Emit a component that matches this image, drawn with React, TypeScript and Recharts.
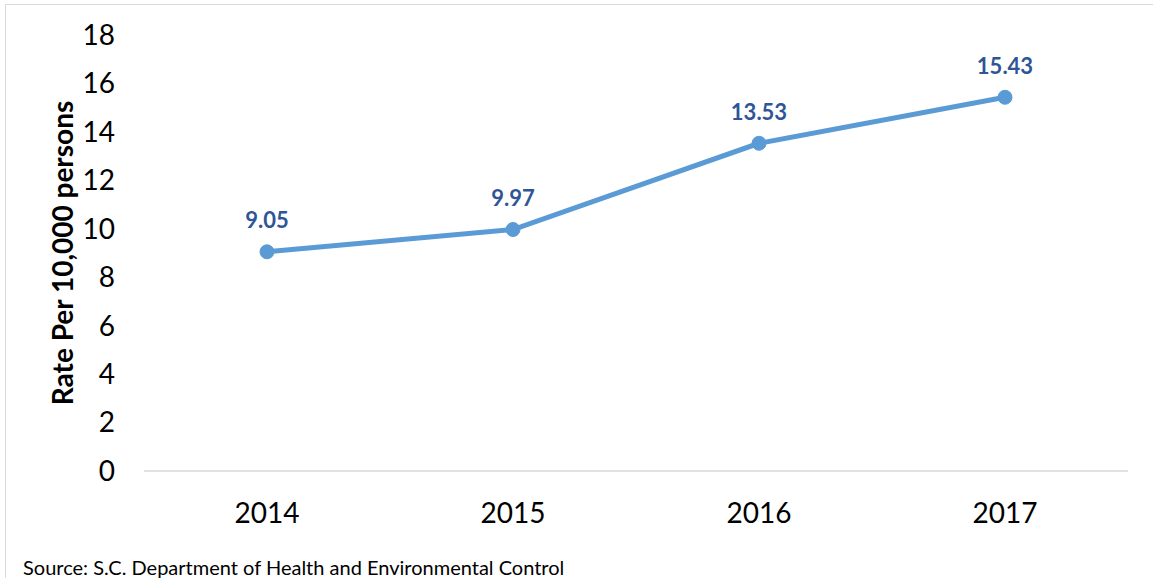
import { CartesianGrid, LabelList, Line, LineChart, XAxis, YAxis } from 'recharts'

const years = ['2014', '2015', '2016', '2017']
const rates = [9.05, 9.97, 13.53, 15.43]
const yTicks = [0, 2, 4, 6, 8, 10, 12, 14, 16, 18]

const data = years.map((year, i) => ({ year, rate: rates[i] }))

const font = 'Lato, Calibri, Carlito, sans-serif'

function RateLabel(props: any) {
  const { x, y, value } = props
  return (
    <text
      x={x}
      y={y - 32}
      textAnchor="middle"
      dominantBaseline="central"
      fill="#2f5597"
      fontFamily={font}
      fontWeight={700}
      fontSize={22}
    >
      {Number(value).toFixed(2)}
    </text>
  )
}

export default function App() {
  return (
    <div
      style={{
        position: 'absolute',
        left: 0,
        top: 0,
        width: 1153,
        height: 578,
        overflow: 'hidden',
        background: '#fff',
        fontFamily: font,
      }}
    >
      <div
        style={{
          position: 'absolute',
          left: 5,
          top: 4,
          width: 1300,
          height: 800,
          borderTop: '1px solid #d9d9d9',
          borderLeft: '1px solid #d9d9d9',
        }}
      />
      <div style={{ position: 'absolute', left: 0, top: 0 }}>
        <LineChart
          width={1153}
          height={578}
          data={data}
          margin={{ top: 35, right: 25, bottom: 77, left: 0 }}
        >
          <CartesianGrid vertical={false} horizontal={false} />
          <XAxis
            dataKey="year"
            height={30}
            padding={{ left: 123, right: 123 }}
            tickLine={false}
            tickSize={0}
            tickMargin={32}
            stroke="#d9d9d9"
            strokeWidth={1.5}
            tick={{ fill: '#000', fontSize: 28, fontFamily: font }}
          />
          <YAxis
            width={144}
            domain={[0, 18]}
            ticks={yTicks}
            axisLine={false}
            tickLine={false}
            tickSize={0}
            tickMargin={29}
            tick={{ fill: '#000', fontSize: 28, fontFamily: font }}
            label={{
              value: 'Rate Per 10,000 persons',
              angle: -90,
              position: 'insideLeft',
              offset: 0,
              dx: 63,
              fill: '#000',
              fontSize: 28,
              fontWeight: 700,
              fontFamily: font,
              style: { textAnchor: 'middle' },
            }}
          />
          <Line
            dataKey="rate"
            stroke="#5b9bd5"
            strokeWidth={5}
            dot={{ r: 7, fill: '#5b9bd5', stroke: '#5b9bd5', strokeWidth: 1 }}
            activeDot={false}
            isAnimationActive={false}
          >
            <LabelList dataKey="rate" content={<RateLabel />} />
          </Line>
        </LineChart>
      </div>
      <div
        style={{
          position: 'absolute',
          left: 23,
          top: 556,
          fontSize: 20,
          color: '#000',
          whiteSpace: 'nowrap',
          lineHeight: '22px',
        }}
      >
        Source: S.C. Department of Health and Environmental Control
      </div>
    </div>
  )
}
